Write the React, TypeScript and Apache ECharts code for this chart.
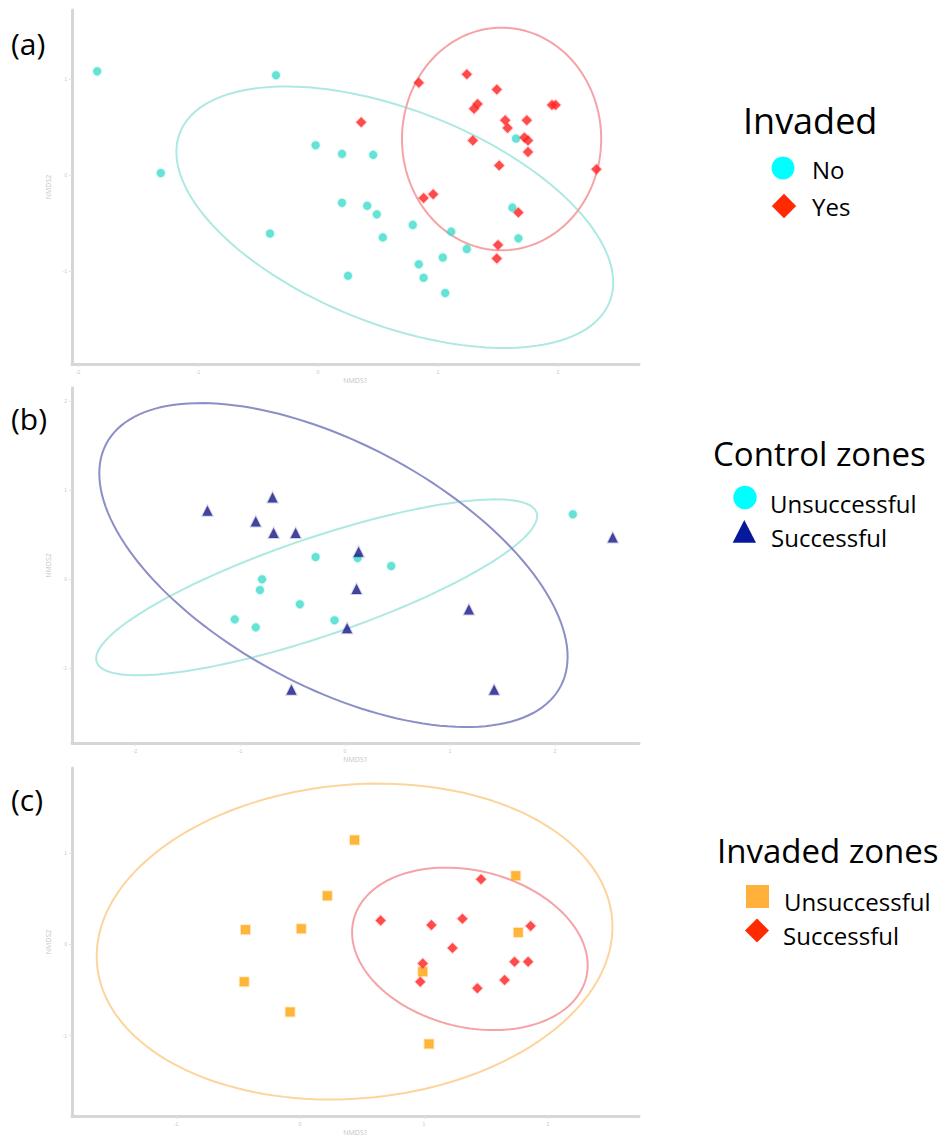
import React, { useEffect, useRef } from "react";
import * as echarts from "echarts";

// ---------- Panel (a): Invaded ----------
const A_NO_X = [-1.84, -0.35, -1.31, -0.02, -0.4, 0.2, 0.46, 0.2, 0.41, 0.49, 0.79, 0.54, 1.11, 1.24, 1.04, 0.84, 0.88, 0.25, 1.06, 1.65, 1.62, 1.67];
const A_NO_Y = [1.08, 1.04, 0.02, 0.31, -0.61, 0.22, 0.21, -0.29, -0.32, -0.41, -0.52, -0.65, -0.59, -0.77, -0.86, -0.93, -1.07, -1.05, -1.23, 0.38, -0.34, -0.66];
const A_YES_X = [1.24, 0.84, 1.49, 1.33, 1.3, 1.95, 1.98, 1.56, 1.58, 1.74, 1.72, 1.75, 1.75, 1.29, 0.36, 1.51, 2.32, 0.88, 0.96, 1.67, 1.5, 1.49];
const A_YES_Y = [1.05, 0.96, 0.89, 0.74, 0.69, 0.73, 0.73, 0.57, 0.49, 0.57, 0.39, 0.36, 0.24, 0.36, 0.55, 0.1, 0.06, -0.24, -0.2, -0.39, -0.73, -0.87];
// ellipse: [centre x, centre y, conjugate axis 1 (x, y), conjugate axis 2 (x, y)]
const A_NO_ELLIPSE = [0.64, -0.44, 1.82, -0.68, 0, 1.18];
const A_YES_ELLIPSE = [1.53, 0.375, 0.83, 0, 0, 1.16];
const A_X_RANGE = [-2.05, 2.675];
const A_Y_RANGE = [-1.969, 1.719];
const A_X_TICKS = [-2, -1, 0, 1, 2];
const A_Y_TICKS = [-1, 0, 1];

// ---------- Panel (b): Control zones ----------
const B_UNS_X = [-0.28, -0.79, -0.81, -0.43, -1.05, -0.85, 0.12, 0.44, -0.1, 2.17];
const B_UNS_Y = [0.25, 0.0, -0.12, -0.28, -0.45, -0.54, 0.24, 0.15, -0.46, 0.73];
const B_SUC_X = [-1.31, -0.69, -0.85, -0.68, -0.47, -0.51, 0.13, 0.11, 0.02, 1.18, 1.42, 2.55];
const B_SUC_Y = [0.77, 0.92, 0.65, 0.52, 0.52, -1.24, 0.31, -0.11, -0.55, -0.34, -1.24, 0.47];
const B_UNS_ELLIPSE = [-0.27, -0.09, 2.1, 0.8, 0, 0.58];
const B_SUC_ELLIPSE = [-0.11, 0.16, 2.23, -1.03, 0, 1.5];
const B_X_RANGE = [-2.6, 2.8];
const B_Y_RANGE = [-1.839, 2.149];
const B_X_TICKS = [-2, -1, 0, 1, 2];
const B_Y_TICKS = [-1, 0, 1, 2];

// ---------- Panel (c): Invaded zones ----------
const C_UNS_X = [0.22, -0.44, 0.01, -0.45, -0.08, 0.44, 1.74, 1.76, 0.99, 1.04];
const C_UNS_Y = [0.53, 0.16, 0.17, -0.41, -0.74, 1.14, 0.75, 0.13, -0.3, -1.09];
const C_SUC_X = [1.46, 0.65, 1.06, 1.31, 1.86, 1.23, 0.99, 0.97, 1.73, 1.84, 1.65, 1.43];
const C_SUC_Y = [0.71, 0.26, 0.21, 0.28, 0.2, -0.04, -0.21, -0.41, -0.19, -0.19, -0.39, -0.48];
const C_UNS_ELLIPSE = [0.44, 0.03, 2.08, 0.16, 0, 1.72];
const C_SUC_ELLIPSE = [1.37, -0.05, 0.95, -0.18, 0, 0.87];
const C_X_RANGE = [-1.839, 2.734];
const C_Y_RANGE = [-1.878, 1.928];
const C_X_TICKS = [-1, 0, 1, 2];
const C_Y_TICKS = [-1, 0, 1];

const PANEL_LABELS = ["(a)", "(b)", "(c)"];
const LEGEND_TITLES = ["Invaded", "Control zones", "Invaded zones"];
const LEGEND_A = ["No", "Yes"];
const LEGEND_B = ["Unsuccessful", "Successful"];
const LEGEND_C = ["Unsuccessful", "Successful"];
const AXIS_NAMES = ["NMDS1", "NMDS2"];

const zip = (xs: number[], ys: number[]) => xs.map((x, i) => [x, ys[i]]);

const FONT = "'Open Sans', 'Noto Sans', sans-serif";

function ellipseSeries(name: string, params: number[], color: string, idx: number) {
  return {
    type: "custom",
    name,
    xAxisIndex: idx,
    yAxisIndex: idx,
    silent: true,
    clip: false,
    z: 1,
    data: [params],
    encode: { x: 0, y: 1 },
    renderItem: (_p: any, api: any) => {
      const cx = api.value(0), cy = api.value(1);
      const ax = api.value(2), ay = api.value(3);
      const bx = api.value(4), by = api.value(5);
      const pts: number[][] = [];
      const n = 160;
      for (let i = 0; i <= n; i++) {
        const t = (i / n) * Math.PI * 2;
        const c = Math.cos(t), s = Math.sin(t);
        pts.push(api.coord([cx + ax * c + bx * s, cy + ay * c + by * s]));
      }
      return {
        type: "polyline",
        shape: { points: pts },
        style: { stroke: color, fill: "none", lineWidth: 2 },
      };
    },
  };
}

function scatterSeries(name: string, data: number[][], symbol: string, size: number, color: string, halo: string, idx: number) {
  return {
    type: "scatter",
    name,
    xAxisIndex: idx,
    yAxisIndex: idx,
    symbol,
    symbolSize: size,
    z: 3,
    data,
    itemStyle: { color, borderColor: halo, borderWidth: 2 },
  };
}

function xAxisOf(idx: number, range: number[], ticks: number[]) {
  return {
    type: "value",
    gridIndex: idx,
    min: range[0],
    max: range[1],
    name: AXIS_NAMES[0],
    nameLocation: "middle",
    nameGap: 13,
    nameTextStyle: { fontSize: 7, color: "#c4c4c4", fontFamily: FONT },
    axisLine: { show: true, onZero: false, lineStyle: { color: "#d6d6d6", width: 3 } },
    axisTick: { show: true, length: 3, customValues: ticks, lineStyle: { color: "#e2e2e2" } },
    axisLabel: { fontSize: 5, color: "#c8c8c8", margin: 5, customValues: ticks },
    splitLine: { show: false },
  };
}

function yAxisOf(idx: number, range: number[], ticks: number[]) {
  return {
    type: "value",
    gridIndex: idx,
    min: range[0],
    max: range[1],
    name: AXIS_NAMES[1],
    nameLocation: "middle",
    nameGap: 15,
    nameTextStyle: { fontSize: 7, color: "#c4c4c4", fontFamily: FONT },
    axisLine: { show: true, onZero: false, lineStyle: { color: "#d6d6d6", width: 3 } },
    axisTick: { show: true, length: 3, customValues: ticks, lineStyle: { color: "#e2e2e2" } },
    axisLabel: { fontSize: 5, color: "#c8c8c8", margin: 5, customValues: ticks },
    splitLine: { show: false },
  };
}

function text(str: string, x: number, y: number, size: number) {
  return {
    type: "text",
    x,
    y,
    style: {
      text: str,
      fontSize: size,
      fontFamily: FONT,
      fill: "#000",
      align: "left",
      verticalAlign: "middle",
    },
  };
}

function diamond(cx: number, cy: number, h: number, color: string) {
  return {
    type: "polygon",
    shape: { points: [[cx, cy - h], [cx + h, cy], [cx, cy + h], [cx - h, cy]] },
    style: { fill: color },
  };
}

const CYAN = "#3fdcca";
const CYAN_HALO = "rgba(64,224,208,0.3)";
const RED = "#ff1f1f";
const RED_HALO = "rgba(255,40,40,0.25)";
const NAVY = "#16168a";
const NAVY_HALO = "rgba(30,30,140,0.25)";
const ORANGE = "#ffa40a";
const ORANGE_HALO = "rgba(255,165,10,0.3)";

export default function App() {
  const ref = useRef<HTMLDivElement>(null);
  useEffect(() => {
    if (!ref.current) return;
    const chart = echarts.init(ref.current, undefined, { renderer: "svg" });
    const option: any = {
      animation: false,
      backgroundColor: "#ffffff",
      grid: [
        { left: 72, top: 10, width: 567, height: 354 },
        { left: 72, top: 388, width: 567, height: 355 },
        { left: 72, top: 768, width: 567, height: 354 },
      ],
      xAxis: [xAxisOf(0, A_X_RANGE, A_X_TICKS), xAxisOf(1, B_X_RANGE, B_X_TICKS), xAxisOf(2, C_X_RANGE, C_X_TICKS)],
      yAxis: [yAxisOf(0, A_Y_RANGE, A_Y_TICKS), yAxisOf(1, B_Y_RANGE, B_Y_TICKS), yAxisOf(2, C_Y_RANGE, C_Y_TICKS)],
      series: [
        ellipseSeries("No ellipse", A_NO_ELLIPSE, "#ade9e2", 0),
        ellipseSeries("Yes ellipse", A_YES_ELLIPSE, "#f5a3a6", 0),
        scatterSeries(LEGEND_A[0], zip(A_NO_X, A_NO_Y), "circle", 8, CYAN, CYAN_HALO, 0),
        scatterSeries(LEGEND_A[1], zip(A_YES_X, A_YES_Y), "diamond", 10, RED, RED_HALO, 0),

        ellipseSeries("Control unsuccessful ellipse", B_UNS_ELLIPSE, "#ade9e2", 1),
        ellipseSeries("Control successful ellipse", B_SUC_ELLIPSE, "#8c8ec6", 1),
        scatterSeries("Control " + LEGEND_B[0], zip(B_UNS_X, B_UNS_Y), "circle", 8, CYAN, CYAN_HALO, 1),
        scatterSeries("Control " + LEGEND_B[1], zip(B_SUC_X, B_SUC_Y), "triangle", 10, NAVY, NAVY_HALO, 1),

        ellipseSeries("Invaded unsuccessful ellipse", C_UNS_ELLIPSE, "#fcd49c", 2),
        ellipseSeries("Invaded successful ellipse", C_SUC_ELLIPSE, "#f5a3a6", 2),
        scatterSeries("Invaded " + LEGEND_C[0], zip(C_UNS_X, C_UNS_Y), "rect", 9, ORANGE, ORANGE_HALO, 2),
        scatterSeries("Invaded " + LEGEND_C[1], zip(C_SUC_X, C_SUC_Y), "diamond", 10, RED, RED_HALO, 2),
      ],
      graphic: [
        text(PANEL_LABELS[0], 11, 43, 30),
        text(PANEL_LABELS[1], 11, 418, 30),
        text(PANEL_LABELS[2], 11, 799, 30),

        // legend (a)
        text(LEGEND_TITLES[0], 743, 120, 36),
        { type: "circle", shape: { cx: 783, cy: 168, r: 11.5 }, style: { fill: "#00ffff" } },
        text(LEGEND_A[0], 812, 169, 24),
        diamond(784, 206, 12.2, "#ff2a00"),
        text(LEGEND_A[1], 812, 206, 24),

        // legend (b)
        text(LEGEND_TITLES[1], 713, 453, 33),
        { type: "circle", shape: { cx: 745, cy: 497.5, r: 11.7 }, style: { fill: "#00ffff" } },
        text(LEGEND_B[0], 770, 503, 24),
        {
          type: "polygon",
          shape: { points: [[744.3, 520], [756, 542.7], [732.7, 542.7]] },
          style: { fill: "#08189a" },
        },
        text(LEGEND_B[1], 771, 537, 24),

        // legend (c)
        text(LEGEND_TITLES[2], 717, 850, 33),
        { type: "rect", shape: { x: 746, y: 885, width: 23, height: 23 }, style: { fill: "#ffb13b" } },
        text(LEGEND_C[0], 784, 901, 24),
        diamond(757, 930.5, 12, "#ff2a00"),
        text(LEGEND_C[1], 783, 935, 24),
      ],
    };
    chart.setOption(option);
    return () => chart.dispose();
  }, []);
  return (
    <div
      ref={ref}
      style={{ position: "absolute", left: 0, top: 0, width: 947, height: 1137, background: "#fff" }}
    />
  );
}
